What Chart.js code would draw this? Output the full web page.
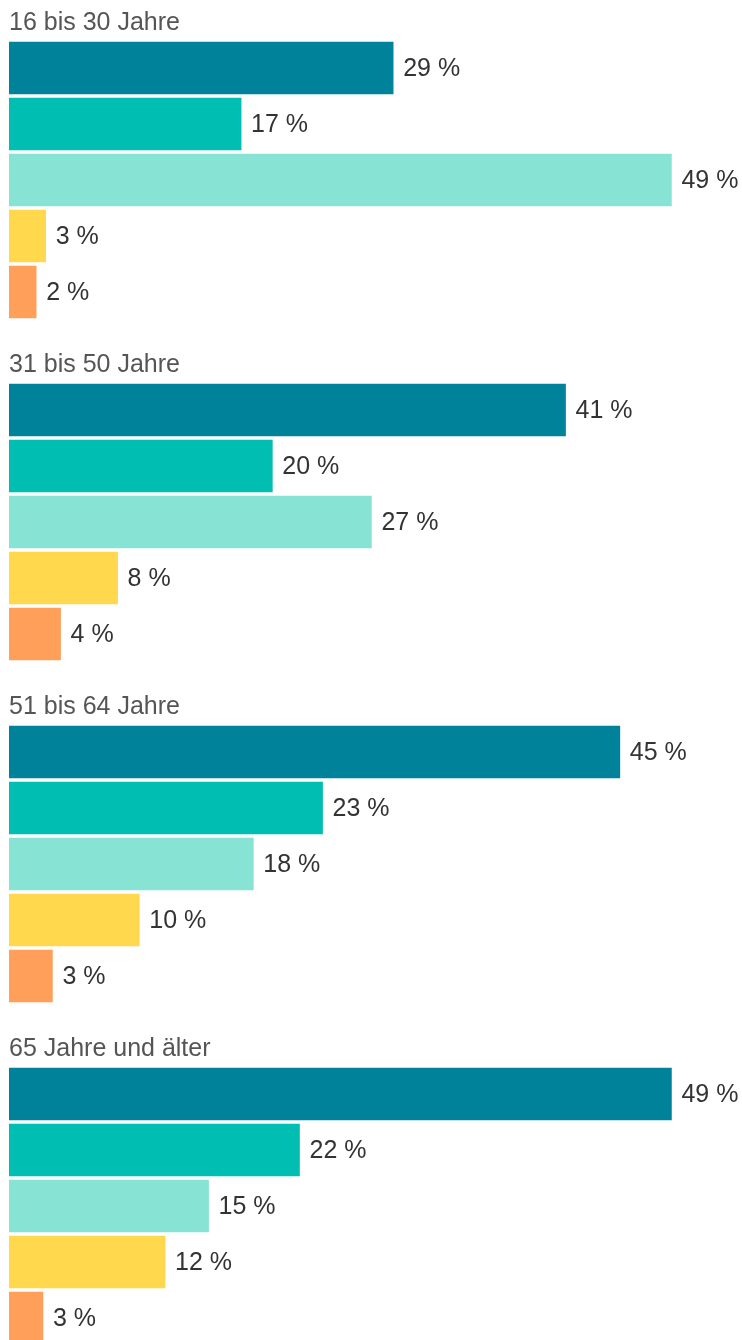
<!DOCTYPE html>
<html lang="de">
<head>
<meta charset="utf-8">
<script src="https://cdn.jsdelivr.net/npm/chart.js@4/dist/chart.umd.min.js"></script>
<style>
  html, body { margin: 0; padding: 0; background: #fff; overflow: hidden; }
  #wrap { position: relative; width: 742px; height: 1340px; }
  .group { position: absolute; left: 0; width: 742px; height: 342px; }
</style>
</head>
<body>
<div id="wrap"></div>
<script>
// --- Daten ---
const groupTitles = ['16 bis 30 Jahre', '31 bis 50 Jahre', '51 bis 64 Jahre', '65 Jahre und älter'];
const categories = ['1', '2', '3', '4', '5'];
const barColors = ['#00829a', '#00beb2', '#87e3d3', '#ffd84d', '#ff9f59'];

// Balkenlängen (aus dem Bild geschätzt)
const values16 = [28.3, 17.1, 48.8, 2.7, 2.0];
const values31 = [41.0, 19.4, 26.7, 8.0, 3.8];
const values51 = [45.0, 23.1, 18.0, 9.6, 3.2];
const values65 = [48.8, 21.4, 14.7, 11.5, 2.5];

// angezeigte Beschriftungen
const shown16 = [29, 17, 49, 3, 2];
const shown31 = [41, 20, 27, 8, 4];
const shown51 = [45, 23, 18, 10, 3];
const shown65 = [49, 22, 15, 12, 3];

const allValues = [values16, values31, values51, values65];
const allShown = [shown16, shown31, shown51, shown65];
const xMax = 54;

const FONT = "'Liberation Sans', Arial, Helvetica, sans-serif";

// Titel + Werte an den Balken
const labelPlugin = {
    id: 'groupLabels',
    afterDatasetsDraw(chart, args, opts) {
        const ctx = chart.ctx;
        ctx.save();
        ctx.font = '25px ' + FONT;
        ctx.textBaseline = 'alphabetic';
        ctx.textAlign = 'left';
        ctx.fillStyle = '#555';
        ctx.fillText(opts.title, 9, 30);

        ctx.fillStyle = '#333';
        const meta = chart.getDatasetMeta(0);
        meta.data.forEach((bar, i) => {
            ctx.fillText(opts.shown[i] + ' %', bar.x + 10, bar.y + 8);
        });
        ctx.restore();
    }
};

const wrap = document.getElementById('wrap');

groupTitles.forEach((title, g) => {
    const div = document.createElement('div');
    div.className = 'group';
    div.style.top = (g * 342) + 'px';
    const canvas = document.createElement('canvas');
    canvas.width = 742;
    canvas.height = 342;
    div.appendChild(canvas);
    wrap.appendChild(div);

    new Chart(canvas.getContext('2d'), {
        type: 'bar',
        data: {
            labels: categories,
            datasets: [{
                data: allValues[g],
                backgroundColor: barColors,
                borderWidth: 0,
                barThickness: 52,
                categoryPercentage: 1
            }]
        },
        options: {
            indexAxis: 'y',
            responsive: false,
            animation: false,
            devicePixelRatio: 1,
            layout: { padding: { left: 9, right: 0, top: 40, bottom: 22 } },
            scales: {
                x: { display: false, min: 0, max: xMax },
                y: { display: false, offset: true }
            },
            plugins: {
                legend: { display: false },
                tooltip: { enabled: false },
                groupLabels: { title: title, shown: allShown[g] }
            }
        },
        plugins: [labelPlugin]
    });
});
</script>
</body>
</html>
